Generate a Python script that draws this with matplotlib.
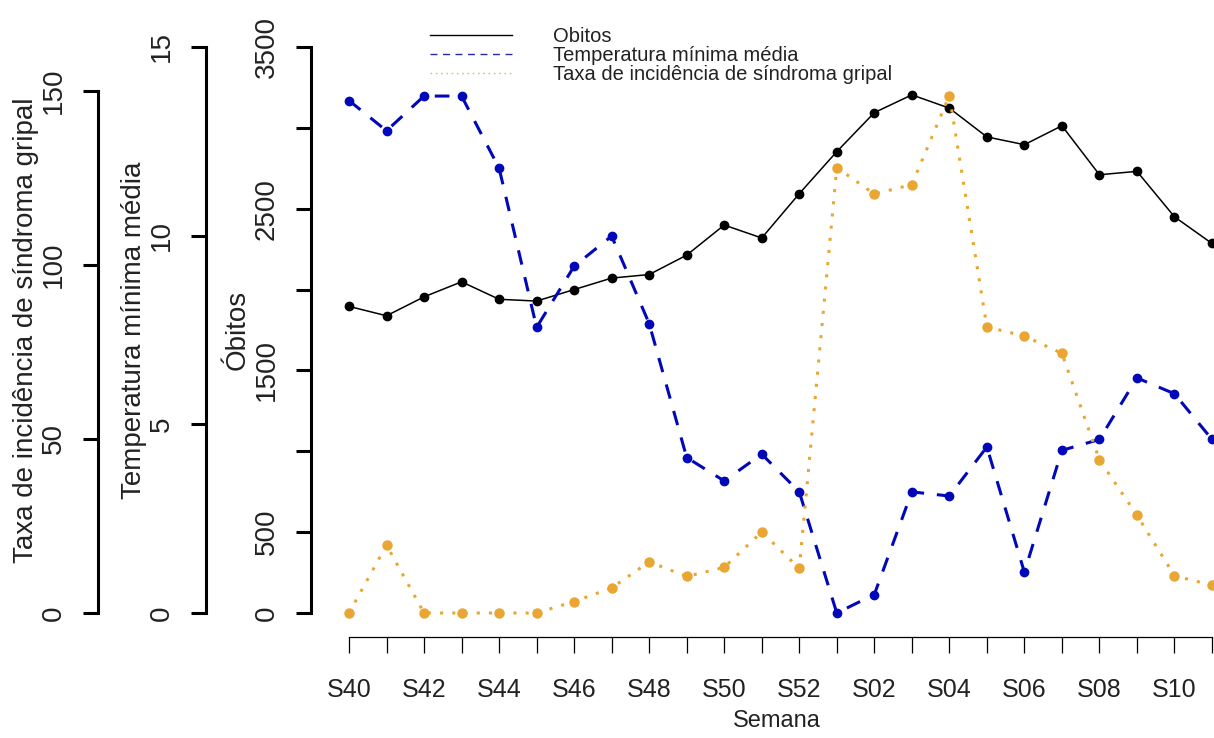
import matplotlib
matplotlib.use("Agg")
import matplotlib.pyplot as plt
from matplotlib import font_manager
from matplotlib.lines import Line2D

# dados semanais
semanas = ["S40", "S41", "S42", "S43", "S44", "S45", "S46", "S47", "S48", "S49",
           "S50", "S51", "S52", "S01", "S02", "S03", "S04", "S05", "S06", "S07",
           "S08", "S09", "S10", "S11"]
obitos = [1896, 1838, 1955, 2048, 1940, 1929, 2000, 2071, 2093, 2213, 2399, 2319,
          2593, 2853, 3094, 3204, 3122, 2944, 2896, 3013, 2710, 2731, 2450, 2285]
temperatura = [13.58, 12.78, 13.70, 13.70, 11.79, 7.57, 9.19, 9.99, 7.67, 4.12,
               3.50, 4.21, 3.21, 0.00, 0.49, 3.21, 3.10, 4.40, 1.08, 4.31,
               4.60, 6.23, 5.81, 4.60]
taxa = [0.0, 19.5, 0.0, 0.0, 0.0, 0.0, 3.3, 7.2, 14.7, 10.5, 13.1, 23.3,
        12.8, 128.0, 120.4, 123.1, 148.7, 82.2, 79.6, 74.6, 44.0, 28.1, 10.7, 8.0]

obitos_ticks = [0, 500, 1000, 1500, 2000, 2500, 3000, 3500]
obitos_labels = ["0", "500", "", "1500", "", "2500", "", "3500"]
temp_ticks = [0, 5, 10, 15]
taxa_ticks = [0, 50, 100, 150]
legenda = ["Obitos", "Temperatura mínima média", "Taxa de incidência de síndroma gripal"]

COR_TEMP = "#0008B8"
COR_TAXA = "#E9A633"

nomes = {f.name for f in font_manager.fontManager.ttflist}
fonte = "Liberation Sans" if "Liberation Sans" in nomes else "DejaVu Sans"
if "Liberation Sans Narrow" in nomes:
    fonte_x, tam_x = "Liberation Sans Narrow", 21
else:
    fonte_x, tam_x = fonte, 18
plt.rcParams["font.family"] = [fonte, "DejaVu Sans"]

W, H = 1214, 738
PT = 72 / 100  # pixels -> pontos


def fx(px):
    return px / W


def fy(py):
    return 1 - py / H


fig = plt.figure(figsize=(W / 100, H / 100), dpi=100)
ax = fig.add_axes([fx(311), fy(613), fx(1214) - fx(311), fy(47) - fy(613)])
ax_t = ax.twinx()
ax_g = ax.twinx()

x = list(range(len(semanas)))
dx = (1212 - 349) / 23
ax.set_xlim(-(349 - 311) / dx, 23 + 2 / dx)

ax.plot(x, obitos, color="black", lw=1.1, marker="o", ms=6, clip_on=False)
ax_t.plot(x, temperatura, color=COR_TEMP, lw=2.2, marker="o", ms=6,
          dashes=(4.8, 4.2), clip_on=False)
ax_g.plot(x, taxa, color=COR_TAXA, lw=2.2, marker="o", ms=6.5,
          dashes=(1, 3), clip_on=False)

ax.set_ylim(0, 3500)
ax_t.set_ylim(0, 15)
ax_g.set_ylim(0, 150 * 566 / 522)

# eixos y à esquerda, deslocados
eixos = [(ax, 0, obitos_ticks, obitos_labels),
         (ax_t, 311 - 206, temp_ticks, [str(t) for t in temp_ticks]),
         (ax_g, 311 - 98, taxa_ticks, [str(t) for t in taxa_ticks])]
for a, desloc, ticks, labels in eixos:
    for s in a.spines.values():
        s.set_visible(False)
    a.yaxis.set_ticks_position("left")
    sp = a.spines["left"]
    sp.set_visible(True)
    sp.set_position(("outward", desloc * PT))
    sp.set_bounds(ticks[0], ticks[-1])
    sp.set_linewidth(2.2)
    a.set_yticks(ticks)
    a.set_yticklabels(labels, rotation=90, va="center", ha="center",
                      fontsize=20, color="#222222")
    a.tick_params(axis="y", length=15 * PT, width=2.2, pad=29 * PT)

# eixo x
sp = ax.spines["bottom"]
sp.set_visible(True)
sp.set_position(("outward", 24 * PT))
sp.set_bounds(0, 23)
sp.set_linewidth(0.9)
ax.set_xticks(x)
ax.set_xticklabels([s if i % 2 == 0 else "" for i, s in enumerate(semanas)],
                   fontsize=tam_x, family=fonte_x, color="#222222")
ax.tick_params(axis="x", length=16 * PT, width=0.9, pad=25 * PT)

# títulos dos eixos
fig.text(fx(777), fy(721), "Semana", ha="center", va="center",
         fontsize=tam_x - 1, family=fonte_x, color="#222222")
fig.text(fx(238), fy(330), "Óbitos", rotation=90, ha="center", va="center",
         fontsize=20, color="#222222")
fig.text(fx(134), fy(330), "Temperatura mínima média", rotation=90,
         ha="center", va="center", fontsize=20, color="#222222")
fig.text(fx(26), fy(330), "Taxa de incidência de síndroma gripal", rotation=90,
         ha="center", va="center", fontsize=20, color="#222222")

# legenda
estilos = [dict(color="black", lw=1.0),
           dict(color="#2828A8", lw=1.0, dashes=(5, 4)),
           dict(color="#D9BE6A", lw=1.0, dashes=(1.2, 2.6))]
linhas_y = [35, 54, 73]
for texto, estilo, yy in zip(legenda, estilos, linhas_y):
    fig.add_artist(Line2D([fx(430), fx(512)], [fy(yy), fy(yy)], **estilo))
    fig.text(fx(553), fy(yy + 7), texto, ha="left", va="baseline",
             fontsize=14.5, color="#222222")

fig.savefig("out.png", dpi=100)
